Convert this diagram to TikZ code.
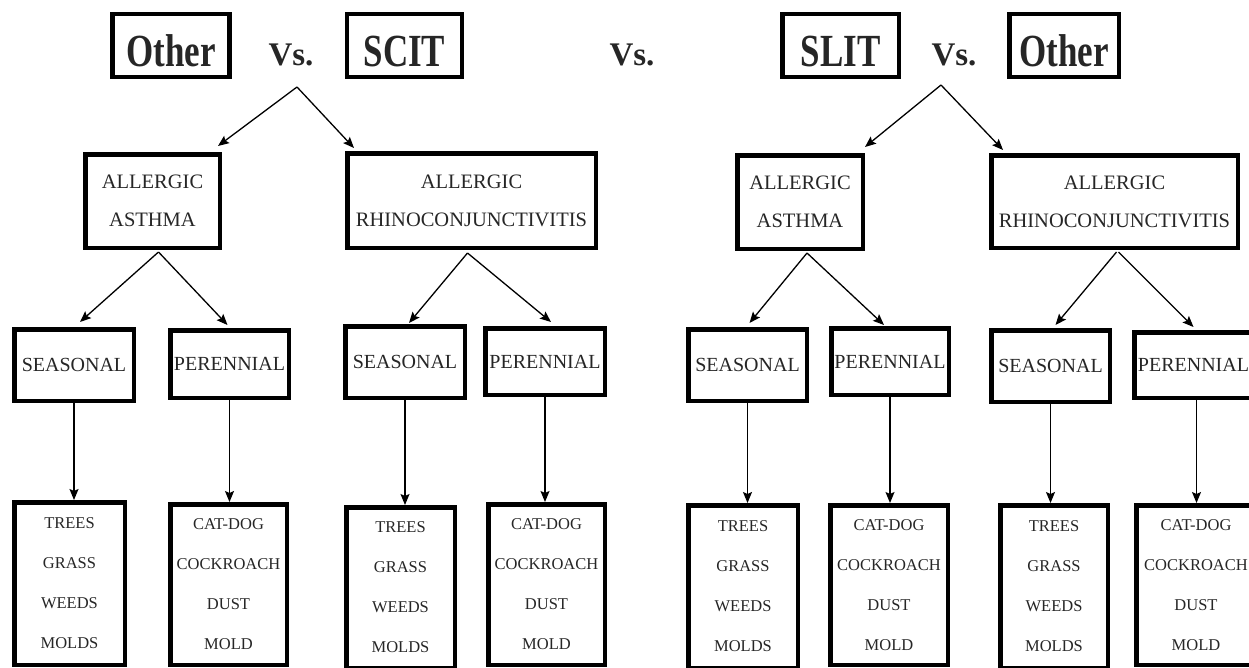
\documentclass[tikz,border=0pt]{standalone}
\usepackage{fontspec}
\setmainfont{Liberation Serif}
\newfontfamily\hdrfont{Liberation Serif}[FakeStretch=0.76]
\usetikzlibrary{arrows.meta}
\begin{document}
\begin{tikzpicture}[x=1pt,y=-1pt,
  box/.style={draw, line width=4.5pt, inner sep=0pt, align=center, text=black!85},
  hdr/.style={box, font=\hdrfont\fontsize{46}{50}\selectfont\bfseries, text height=41pt, text depth=0pt},
  vs/.style={inner sep=0pt, font=\fontsize{33}{36}\selectfont\bfseries, text=black!85},
  dz/.style={box, font=\fontsize{20.5}{38}\selectfont},
  dzs/.style={box, font=\fontsize{20}{38}\selectfont},
  cat/.style={box, font=\fontsize{16.5}{40}\selectfont},
  arr/.style={line width=1.3pt, -{Stealth[length=11pt,width=9pt,inset=2pt]}}]
\useasboundingbox (0,0) rectangle (1249,667);
\fill[white] (0,0) rectangle (1249,667);
\clip (0,0) rectangle (1249,667);

% header
\node[hdr, minimum width=117pt, minimum height=63pt] (oL) at (171,45.5) {Other};
\node[hdr, minimum width=115pt, minimum height=63pt] (scit) at (404.5,45.5) {SCIT};
\node[hdr, minimum width=116.5pt, minimum height=63pt] (slit) at (840.5,45.5) {SLIT};
\node[hdr, minimum width=109.5pt, minimum height=63pt] (oR) at (1064,45.5) {Other};
\node[vs] (vs1) at (291,55) {Vs.};
\node[vs] (vsM) at (632,55) {Vs.};
\node[vs] (vs2) at (954,55) {Vs.};
\coordinate (ap1) at (297,87);
\coordinate (ap2) at (941,85);

% row 2
\node[dz, minimum width=134.5pt, minimum height=93.5pt] (as1) at (152.5,201) {ALLERGIC\\ASTHMA};
\node[dz, minimum width=248.5pt, minimum height=94.5pt] (rh1) at (471.5,200.5) {ALLERGIC\\RHINOCONJUNCTIVITIS};
\node[dz, minimum width=125.5pt, minimum height=93.5pt] (as2) at (800,202) {ALLERGIC\\ASTHMA};
\node[dz, minimum width=246.5pt, minimum height=92.5pt] (rh2) at (1114.5,201.5) {ALLERGIC\\RHINOCONJUNCTIVITIS};

% row 3
\node[dzs, minimum width=119.5pt, minimum height=71.5pt] (sea1) at (74,365) {SEASONAL};
\node[dzs, minimum width=118.5pt, minimum height=67.5pt] (per1) at (229.5,364) {PERENNIAL};
\node[dzs, minimum width=119.5pt, minimum height=71.5pt] (sea2) at (405,362) {SEASONAL};
\node[dzs, minimum width=119.5pt, minimum height=66.5pt] (per2) at (545,361.5) {PERENNIAL};
\node[dzs, minimum width=118.5pt, minimum height=71.5pt] (sea3) at (747.5,365) {SEASONAL};
\node[dzs, minimum width=117.5pt, minimum height=66.5pt] (per3) at (890,361.5) {PERENNIAL};
\node[dzs, minimum width=118.5pt, minimum height=71.5pt] (sea4) at (1050.5,366) {SEASONAL};
\node[dzs, minimum width=118.5pt, minimum height=65.5pt] (per4) at (1193.5,365) {PERENNIAL};

% bottom row
\node[cat, minimum width=110.5pt, minimum height=162.5pt] (b1) at (69.5,583.5) {TREES\\GRASS\\WEEDS\\MOLDS};
\node[cat, minimum width=116.5pt, minimum height=160.5pt] (b2) at (228.5,584.5) {CAT-DOG\\COCKROACH\\DUST\\MOLD};
\node[cat, minimum width=108.5pt, minimum height=160.5pt] (b3) at (400.5,587.5) {TREES\\GRASS\\WEEDS\\MOLDS};
\node[cat, minimum width=116.5pt, minimum height=160.5pt] (b4) at (546.5,584.5) {CAT-DOG\\COCKROACH\\DUST\\MOLD};
\node[cat, minimum width=109.5pt, minimum height=162.5pt] (b5) at (743,586.5) {TREES\\GRASS\\WEEDS\\MOLDS};
\node[cat, minimum width=117.5pt, minimum height=159.5pt] (b6) at (889,585) {CAT-DOG\\COCKROACH\\DUST\\MOLD};
\node[cat, minimum width=107.5pt, minimum height=162.5pt] (b7) at (1054,586.5) {TREES\\GRASS\\WEEDS\\MOLDS};
\node[cat, minimum width=119.5pt, minimum height=159.5pt] (b8) at (1196,585) {CAT-DOG\\COCKROACH\\DUST\\MOLD};

% top arrows
\draw[arr] (ap1) -- ([xshift=-4pt,yshift=6pt]as1.north east);
\draw[arr] (ap1) -- ([xshift=9pt,yshift=3pt]rh1.north west);
\draw[arr] (ap2) -- ([yshift=6pt]as2.north east);
\draw[arr] (ap2) -- ([xshift=14pt,yshift=3pt]rh2.north west);

% row 2 -> row 3
\draw[arr] ([xshift=6pt,yshift=-2pt]as1.south) -- ([xshift=6pt,yshift=5pt]sea1.north);
\draw[arr] ([xshift=6pt,yshift=-2pt]as1.south) -- ([xshift=-2pt,yshift=3pt]per1.north);
\draw[arr] ([xshift=-4pt,yshift=-3pt]rh1.south) -- ([xshift=4pt,yshift=1pt]sea2.north);
\draw[arr] ([xshift=-4pt,yshift=-3pt]rh1.south) -- ([xshift=6pt,yshift=4pt]per2.north);
\draw[arr] ([xshift=7pt,yshift=-2pt]as2.south) -- ([xshift=2pt,yshift=4pt]sea3.north);
\draw[arr] ([xshift=7pt,yshift=-2pt]as2.south) -- ([xshift=-6pt,yshift=1pt]per3.north);
\draw[arr] ([xshift=2pt,yshift=-2pt]rh2.south) -- ([xshift=5pt,yshift=3pt]sea4.north);
\draw[arr] ([xshift=4pt,yshift=-2pt]rh2.south) -- ([xshift=0pt,yshift=3pt]per4.north);

% row 3 -> bottom
\foreach \s/\b in {sea1/b1,per1/b2,sea2/b3,per2/b4,sea3/b5,per3/b6,sea4/b7}
  \draw[arr] (\s.south) -- (\s.south |- \b.north);
\draw[arr] ([xshift=3pt]per4.south) -- ([xshift=3pt]per4.south |- b8.north);
\end{tikzpicture}
\end{document}
